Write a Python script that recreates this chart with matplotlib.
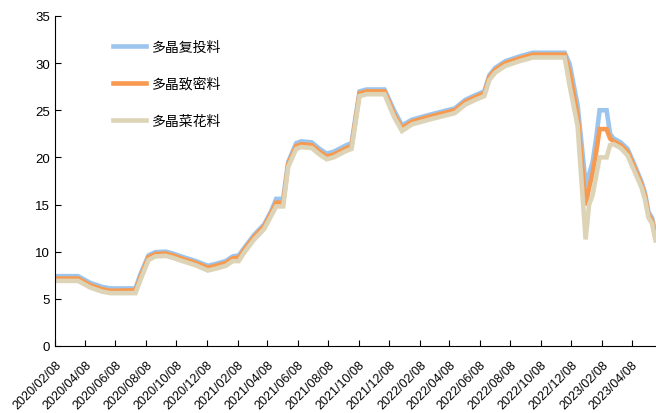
import pandas as pd
import matplotlib.pyplot as plt

plt.rcParams['font.family'] = ['Liberation Sans', 'Noto Sans CJK SC', 'DejaVu Sans']

# dates (weekly price points, key turning points)
dates = ['2020-02-08', '2020-03-25', '2020-04-18', '2020-05-13', '2020-05-29', '2020-07-18',
         '2020-07-28', '2020-08-13', '2020-08-27', '2020-09-17', '2020-10-01', '2020-10-17',
         '2020-11-16', '2020-12-10', '2020-12-26', '2021-01-15', '2021-01-29', '2021-02-10',
         '2021-02-21', '2021-03-13', '2021-04-02', '2021-04-16', '2021-04-26', '2021-05-10',
         '2021-05-20', '2021-06-05', '2021-06-15', '2021-07-06', '2021-07-22', '2021-08-05',
         '2021-08-19', '2021-09-14', '2021-09-24', '2021-10-10', '2021-10-24', '2021-11-29',
         '2021-12-18', '2022-01-03', '2022-01-23', '2022-02-26', '2022-04-19', '2022-05-10',
         '2022-05-30', '2022-06-17', '2022-06-27', '2022-07-09', '2022-07-29', '2022-08-26',
         '2022-09-22', '2022-11-25', '2022-12-05', '2022-12-21', '2023-01-06', '2023-01-13',
         '2023-01-20', '2023-01-27', '2023-02-03', '2023-02-17', '2023-02-24', '2023-03-03',
         '2023-03-17', '2023-03-31', '2023-04-14', '2023-04-28', '2023-05-05', '2023-05-12',
         '2023-05-19', '2023-05-26']

# 多晶复投料
futou = [7.4, 7.4, 6.7, 6.25, 6.1, 6.1,
         7.6, 9.6, 9.95, 10.0, 9.8, 9.5,
         9.0, 8.5, 8.7, 9.0, 9.5, 9.6,
         10.4, 11.8, 12.9, 14.3, 15.6, 15.6,
         19.5, 21.5, 21.7, 21.6, 20.9, 20.4,
         20.6, 21.3, 21.5, 27.0, 27.2, 27.2,
         25.0, 23.4, 24.0, 24.5, 25.2, 26.1,
         26.6, 27.0, 28.7, 29.5, 30.2, 30.7,
         31.1, 31.1, 29.9, 25.5, 17.2, 18.2,
         19.5, 22.0, 25.0, 25.0, 22.5, 22.0,
         21.6, 20.9, 19.2, 17.4, 16.2, 14.2,
         13.6, 11.8]

# 多晶致密料
zhimi = [7.15, 7.15, 6.45, 6.0, 5.85, 5.9,
         7.3, 9.4, 9.75, 9.8, 9.6, 9.3,
         8.8, 8.3, 8.5, 8.8, 9.3, 9.35,
         10.2, 11.6, 12.7, 14.1, 15.2, 15.2,
         19.3, 21.2, 21.4, 21.3, 20.6, 20.1,
         20.3, 21.0, 21.2, 26.8, 27.0, 27.0,
         24.6, 23.1, 23.8, 24.3, 25.0, 25.9,
         26.4, 26.8, 28.5, 29.3, 30.0, 30.5,
         30.9, 30.9, 29.0, 24.4, 14.9, 16.8,
         18.3, 20.5, 23.0, 23.0, 22.0, 21.7,
         21.3, 20.6, 18.9, 17.1, 15.9, 13.9,
         13.3, 11.5]

# 多晶菜花料
caihua = [6.9, 6.9, 6.2, 5.75, 5.6, 5.6,
          7.0, 9.1, 9.5, 9.55, 9.35, 9.05,
          8.55, 8.0, 8.2, 8.5, 9.0, 9.0,
          9.9, 11.3, 12.4, 13.8, 14.8, 14.8,
          19.0, 20.9, 21.1, 21.0, 20.3, 19.8,
          20.0, 20.7, 20.9, 26.5, 26.7, 26.7,
          24.3, 22.8, 23.5, 24.0, 24.7, 25.6,
          26.1, 26.5, 28.2, 29.0, 29.7, 30.2,
          30.6, 30.6, 27.6, 23.3, 11.3, 15.0,
          16.0, 18.0, 20.0, 20.0, 21.3, 21.4,
          21.0, 20.2, 18.5, 16.8, 15.5, 13.6,
          13.0, 11.2]

tick_labels = ['2020/02/08', '2020/04/08', '2020/06/08', '2020/08/08', '2020/10/08',
               '2020/12/08', '2021/02/08', '2021/04/08', '2021/06/08', '2021/08/08',
               '2021/10/08', '2021/12/08', '2022/02/08', '2022/04/08', '2022/06/08',
               '2022/08/08', '2022/10/08', '2022/12/08', '2023/02/08', '2023/04/08']

df = pd.DataFrame({'date': pd.to_datetime(dates), '多晶复投料': futou,
                   '多晶致密料': zhimi, '多晶菜花料': caihua})

fig = plt.figure(figsize=(6.56, 4.14), dpi=100)
ax = fig.add_axes([0.084, 0.162, 0.916, 0.797])

colors = {'多晶复投料': '#9cc5ee', '多晶致密料': '#f79a50', '多晶菜花料': '#ddd3b6'}
for name in ['多晶复投料', '多晶致密料', '多晶菜花料']:
    ax.plot(df['date'], df[name], color=colors[name], lw=3.3, label=name,
            solid_joinstyle='miter')

ax.set_ylim(0, 35)
ax.set_yticks(range(0, 36, 5))
ax.set_xlim(pd.Timestamp('2020-02-08'), pd.Timestamp('2023-05-27'))
ticks = pd.to_datetime(tick_labels, format='%Y/%m/%d')
ax.set_xticks(ticks)
ax.set_xticklabels(tick_labels, rotation=45, ha='right', va='top',
                   rotation_mode='anchor', fontsize=9)
ax.tick_params(axis='y', labelsize=9.5, direction='in', length=4)
ax.tick_params(axis='x', direction='in', length=4, pad=9)

for s in ['top', 'right']:
    ax.spines[s].set_visible(False)

ax.legend(loc='upper left', bbox_to_anchor=(0.075, 0.965), frameon=False,
          prop={'family': ['Noto Sans CJK SC'], 'size': 10},
          handlelength=2.4, labelspacing=1.65, handletextpad=0.45)

fig.savefig('out.png', dpi=100)
